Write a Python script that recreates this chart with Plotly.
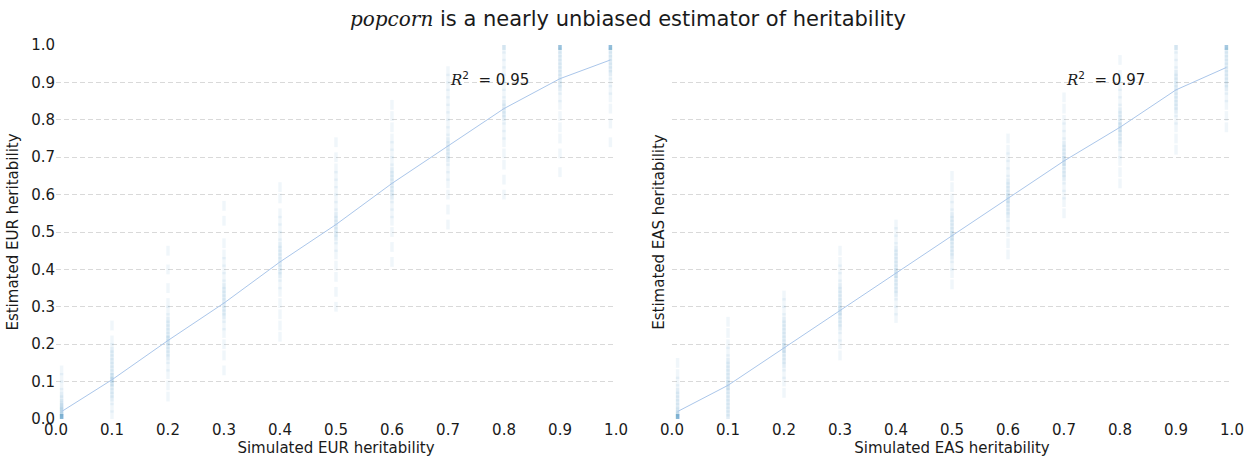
import plotly.graph_objects as go

# Simulated heritability levels (columns)
sim_levels = [0.01, 0.1, 0.2, 0.3, 0.4, 0.5, 0.6, 0.7, 0.8, 0.9, 0.99]

# Estimated EUR heritability per simulated level
eur_est = [
    [0, 0, 0, 0, 0, 0, 0, 0, 0.005, 0.01, 0.015, 0.02, 0.025, 0.03, 0.035, 0.04, 0.05, 0.06, 0.07, 0.09, 0.11, 0.13],
    [0.01, 0.03, 0.05, 0.06, 0.07, 0.08, 0.09, 0.10, 0.10, 0.11, 0.11, 0.12, 0.13, 0.14, 0.15, 0.16, 0.17, 0.18, 0.19, 0.21, 0.25],
    [0.06, 0.09, 0.12, 0.14, 0.16, 0.17, 0.18, 0.19, 0.20, 0.21, 0.21, 0.22, 0.23, 0.24, 0.25, 0.26, 0.27, 0.29, 0.31, 0.35, 0.40, 0.45],
    [0.13, 0.17, 0.20, 0.23, 0.25, 0.27, 0.28, 0.29, 0.30, 0.31, 0.32, 0.33, 0.34, 0.35, 0.36, 0.38, 0.40, 0.42, 0.44, 0.47, 0.53, 0.57],
    [0.22, 0.25, 0.28, 0.31, 0.34, 0.36, 0.38, 0.39, 0.40, 0.41, 0.42, 0.43, 0.44, 0.45, 0.46, 0.47, 0.49, 0.51, 0.53, 0.55, 0.59, 0.62],
    [0.30, 0.34, 0.38, 0.41, 0.44, 0.46, 0.48, 0.49, 0.50, 0.51, 0.52, 0.53, 0.54, 0.55, 0.57, 0.59, 0.61, 0.63, 0.65, 0.67, 0.70, 0.74],
    [0.42, 0.46, 0.50, 0.53, 0.55, 0.57, 0.59, 0.60, 0.61, 0.62, 0.63, 0.64, 0.65, 0.66, 0.67, 0.69, 0.71, 0.73, 0.75, 0.78, 0.81, 0.84],
    [0.52, 0.56, 0.60, 0.63, 0.65, 0.67, 0.69, 0.70, 0.71, 0.72, 0.73, 0.74, 0.75, 0.77, 0.79, 0.81, 0.83, 0.85, 0.87, 0.89, 0.91, 0.93],
    [0.60, 0.64, 0.68, 0.71, 0.74, 0.76, 0.78, 0.80, 0.81, 0.82, 0.83, 0.84, 0.85, 0.87, 0.89, 0.91, 0.93, 0.95, 0.97, 0.99, 1.0, 1.0],
    [0.66, 0.71, 0.75, 0.78, 0.81, 0.84, 0.86, 0.88, 0.89, 0.90, 0.91, 0.92, 0.93, 0.94, 0.95, 0.96, 0.97, 0.98, 0.99, 1.0, 1.0, 1.0, 1.0, 1.0, 1.0, 1.0],
    [0.74, 0.79, 0.83, 0.86, 0.88, 0.90, 0.92, 0.93, 0.94, 0.95, 0.96, 0.97, 0.98, 0.99, 1.0, 1.0, 1.0, 1.0, 1.0, 1.0, 1.0, 1.0],
]

# Estimated EAS heritability per simulated level
eas_est = [
    [0, 0, 0, 0, 0, 0, 0, 0, 0.005, 0.01, 0.015, 0.02, 0.03, 0.04, 0.05, 0.06, 0.07, 0.08, 0.10, 0.12, 0.15],
    [0, 0.01, 0.02, 0.03, 0.04, 0.05, 0.06, 0.07, 0.08, 0.09, 0.09, 0.10, 0.11, 0.12, 0.13, 0.14, 0.15, 0.16, 0.18, 0.20, 0.23, 0.26],
    [0.07, 0.10, 0.12, 0.14, 0.15, 0.16, 0.17, 0.18, 0.19, 0.19, 0.20, 0.21, 0.22, 0.23, 0.24, 0.25, 0.26, 0.27, 0.29, 0.31, 0.33],
    [0.17, 0.20, 0.22, 0.24, 0.25, 0.26, 0.27, 0.28, 0.29, 0.29, 0.30, 0.31, 0.32, 0.33, 0.34, 0.35, 0.36, 0.38, 0.40, 0.42, 0.45],
    [0.27, 0.29, 0.31, 0.33, 0.34, 0.35, 0.36, 0.37, 0.38, 0.39, 0.39, 0.40, 0.41, 0.42, 0.43, 0.44, 0.45, 0.46, 0.48, 0.50, 0.52],
    [0.36, 0.39, 0.41, 0.43, 0.44, 0.45, 0.46, 0.47, 0.48, 0.49, 0.49, 0.50, 0.51, 0.52, 0.53, 0.54, 0.55, 0.57, 0.59, 0.62, 0.65],
    [0.44, 0.47, 0.50, 0.52, 0.54, 0.55, 0.56, 0.57, 0.58, 0.59, 0.59, 0.60, 0.61, 0.62, 0.63, 0.64, 0.66, 0.68, 0.70, 0.72, 0.75],
    [0.55, 0.58, 0.60, 0.62, 0.64, 0.65, 0.66, 0.67, 0.68, 0.69, 0.69, 0.70, 0.71, 0.72, 0.73, 0.74, 0.76, 0.78, 0.80, 0.83, 0.86],
    [0.63, 0.66, 0.69, 0.71, 0.73, 0.74, 0.75, 0.76, 0.77, 0.78, 0.78, 0.79, 0.80, 0.81, 0.82, 0.83, 0.85, 0.87, 0.89, 0.92, 0.96],
    [0.72, 0.75, 0.78, 0.80, 0.82, 0.83, 0.84, 0.85, 0.86, 0.87, 0.88, 0.89, 0.90, 0.91, 0.92, 0.93, 0.95, 0.97, 0.99, 1.0, 1.0],
    [0.78, 0.81, 0.84, 0.86, 0.88, 0.89, 0.90, 0.91, 0.92, 0.93, 0.94, 0.95, 0.96, 0.97, 0.98, 0.99, 1.0, 1.0, 1.0, 1.0, 1.0, 1.0],
]

# Mean estimate lines
eur_mean = [0.02, 0.105, 0.21, 0.31, 0.42, 0.52, 0.63, 0.73, 0.83, 0.91, 0.96]
eas_mean = [0.02, 0.09, 0.19, 0.29, 0.39, 0.49, 0.59, 0.69, 0.78, 0.88, 0.94]

r2_values = ["0.95", "0.97"]
pops = ["EUR", "EAS"]
y_ticks = [0.0, 0.1, 0.2, 0.3, 0.4, 0.5, 0.6, 0.7, 0.8, 0.9, 1.0]

FONT = "DejaVu Sans"
POINT_COLOR = "rgba(31,119,180,0.065)"
LINE_COLOR = "#aac6ea"
GRID_COLOR = "#d9d9d9"
TEXT_COLOR = "#1a1a1a"

fig = go.Figure()

for i, (est, mean) in enumerate([(eur_est, eur_mean), (eas_est, eas_mean)]):
    xs, ys = [], []
    for lvl, col in zip(sim_levels, est):
        xs.extend([lvl] * len(col))
        ys.extend(col)
    xa = "x" if i == 0 else "x2"
    ya = "y" if i == 0 else "y2"
    fig.add_trace(go.Scatter(
        x=xs, y=ys, mode="markers", xaxis=xa, yaxis=ya,
        marker=dict(symbol="line-ns", size=7, color=POINT_COLOR,
                    line=dict(width=3.5, color=POINT_COLOR)),
        showlegend=False, hoverinfo="skip", cliponaxis=True,
    ))
    fig.add_trace(go.Scatter(
        x=sim_levels, y=mean, mode="lines", xaxis=xa, yaxis=ya,
        line=dict(color=LINE_COLOR, width=1),
        showlegend=False, hoverinfo="skip",
    ))

tickvals = y_ticks
ticktext = ["%.1f" % v for v in y_ticks]
axis_common = dict(
    range=[0, 1], showline=False, zeroline=False, ticks="", automargin=False,
    tickfont=dict(family=FONT, size=15, color=TEXT_COLOR),
    tickvals=tickvals, ticktext=ticktext,
)

fig.update_layout(
    width=1256, height=461,
    margin=dict(l=56, r=24, t=45, b=42),
    paper_bgcolor="white", plot_bgcolor="white",
    font=dict(family=FONT, size=15, color=TEXT_COLOR),
    title=dict(
        text="<span style='font-family:DejaVu Serif;font-style:italic;font-size:20px'>popcorn</span> is a nearly unbiased estimator of heritability",
        x=0.5, xanchor="center", y=0.975, yanchor="top",
        font=dict(family=FONT, size=21, color=TEXT_COLOR),
    ),
    xaxis=dict(axis_common, domain=[0, 0.4762], showgrid=False, anchor="y",
               title=dict(text="Simulated EUR heritability", standoff=2,
                          font=dict(family=FONT, size=15))),
    xaxis2=dict(axis_common, domain=[0.5238, 1.0], showgrid=False, anchor="y2",
                title=dict(text="Simulated EAS heritability", standoff=2,
                           font=dict(family=FONT, size=15))),
    yaxis=dict(axis_common, anchor="x", showgrid=True, gridcolor=GRID_COLOR,
               griddash="5px,3px", gridwidth=1,
               title=dict(text="Estimated EUR heritability", standoff=8,
                          font=dict(family=FONT, size=15))),
    yaxis2=dict(axis_common, anchor="x2", showgrid=True, gridcolor=GRID_COLOR,
                griddash="5px,3px", gridwidth=1, showticklabels=False,
                title=dict(text="Estimated EAS heritability", standoff=2,
                           font=dict(family=FONT, size=15))),
)

for i, r2 in enumerate(r2_values):
    fig.add_annotation(
        x=0.7, y=0.91, xref="x" if i == 0 else "x2", yref="y" if i == 0 else "y2",
        text="<span style='font-family:DejaVu Serif;font-style:italic'>R</span><sup>2</sup>  = " + r2,
        showarrow=False, xanchor="left", yanchor="middle",
        font=dict(family=FONT, size=15, color=TEXT_COLOR),
    )

fig.write_html("out.html")
